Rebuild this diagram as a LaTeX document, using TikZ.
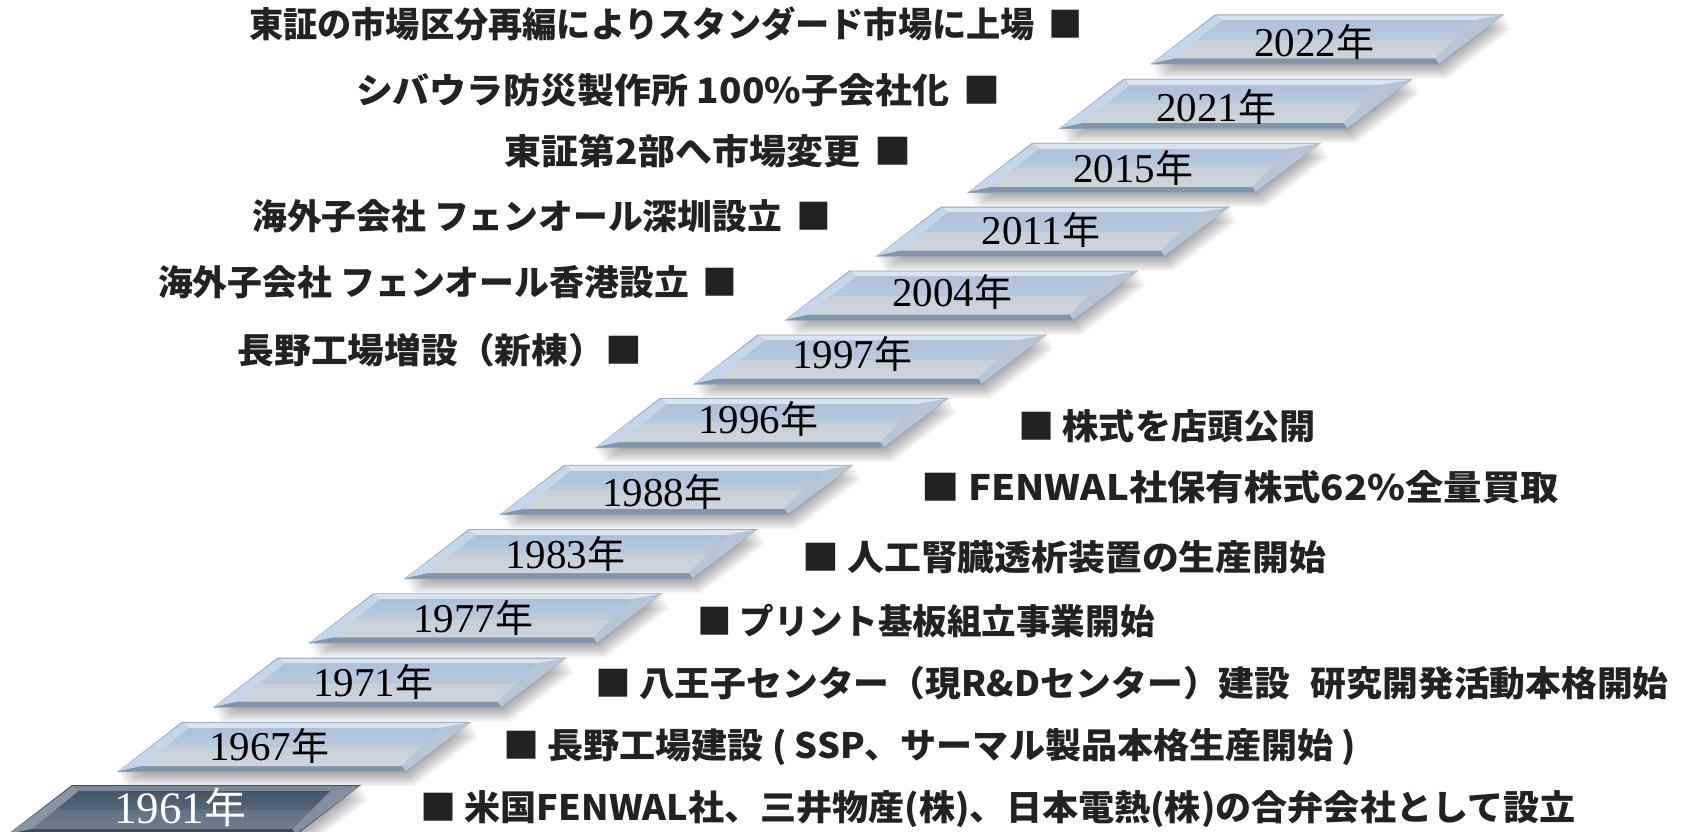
\documentclass[tikz,border=0pt]{standalone}
\usepackage{fontspec}
\usepackage{graphicx}
\newfontfamily\jp{Noto Sans CJK JP}
\newfontfamily\yrf{Liberation Serif}
\usetikzlibrary{calc}
% light step colours
\definecolor{Ledge}{HTML}{90A4B9}
\definecolor{Ltop}{HTML}{D8E4F0}
\definecolor{Lleft}{HTML}{C4D6EA}
\definecolor{Lright}{HTML}{B6C6D5}
\definecolor{Lbot}{HTML}{8195AA}
\definecolor{Lft}{HTML}{ADC1DA}
\definecolor{Lfm}{HTML}{BACADE}
\definecolor{Lfm2}{HTML}{C5D0D6}
\definecolor{Lfb}{HTML}{CDD6DA}
\definecolor{Ltxt}{HTML}{000000}
% dark step colours
\definecolor{Dedge}{HTML}{3C4957}
\definecolor{Dtop}{HTML}{7A8A9B}
\definecolor{Dleft}{HTML}{8796A5}
\definecolor{Dright}{HTML}{8390A0}
\definecolor{Dbot}{HTML}{3A4652}
\definecolor{Dft}{HTML}{455567}
\definecolor{Dfm}{HTML}{56677A}
\definecolor{Dfm2}{HTML}{627284}
\definecolor{Dfb}{HTML}{6E7E8E}
\definecolor{Dtxt}{HTML}{FFFFFF}
\definecolor{evtxt}{HTML}{222222}
\tikzset{
  evt/.style={font=\jp\bfseries\fontsize{35}{40}\selectfont, text=evtxt, inner sep=0pt},
  yr/.style={font=\yrf\fontsize{41}{44}\selectfont, inner sep=0pt, anchor=base},
  yrbig/.style={font=\yrf\fontsize{45}{48}\selectfont, inner sep=0pt, anchor=base},
}
\newcommand\jyear[1]{#1{\jp\fontsize{38}{44}\selectfont 年}}
\newcommand\jyearbig[1]{#1{\jp\fontsize{42}{48}\selectfont 年}}
\newcommand\sx[2]{\scalebox{#1}[1]{#2}}
% #1 name, #2 x, #3 y, #4 scheme
\newcommand\yearstep[4]{%
 \begin{scope}[shift={(#2,#3)}]
  \foreach \k in {1,...,9}{\fill[black,opacity=0.04] (\k*0.9,\k*1.6) -- ++(289,0) -- ++(-65,50) -- ++(-289,0) -- cycle;}
  \fill[#4edge] (0,0) -- (289,0) -- (224,50) -- (-65,50) -- cycle;
  \fill[#4top] (0.8,0.8) -- (287.6,0.8) -- (258,6) -- (7,6) -- cycle;
  \fill[#4left] (0.8,0.8) -- (7,6) -- (-40,44) -- (-63.5,49.2) -- cycle;
  \fill[#4right] (287.6,0.8) -- (223.5,49.2) -- (220,44) -- (258,6) -- cycle;
  \fill[#4bot] (-63.5,49.2) -- (-40,44) -- (220,44) -- (223.5,49.2) -- cycle;
  \shade[top color=#4ft, bottom color=#4fm] (7,6) -- (258,6) -- (239,25) -- (-16.5,25) -- cycle;
  \shade[top color=#4fm2, bottom color=#4fb] (-16.5,25) -- (239,25) -- (220,44) -- (-40,44) -- cycle;
 \end{scope}}
\begin{document}
\begin{tikzpicture}[x=1pt,y=-1pt]
\fill[white] (0,0) rectangle (1687,832);
\useasboundingbox (0,0) rectangle (1687,832);
% steps, top to bottom
\yearstep{s2022}{1215}{14.5}{L}
\yearstep{s2021}{1123.6}{78.9}{L}
\yearstep{s2015}{1032.2}{142.8}{L}
\yearstep{s2011}{940.8}{206.7}{L}
\yearstep{s2004}{849.4}{270.6}{L}
\yearstep{s1997}{758}{334.5}{L}
\yearstep{s1996}{660}{398}{L}
\yearstep{s1988}{564.4}{464.8}{L}
\yearstep{s1983}{468.8}{529.1}{L}
\yearstep{s1977}{373.2}{593.4}{L}
\yearstep{s1971}{277.6}{657.7}{L}
\yearstep{s1967}{182}{722}{L}
\yearstep{s1961}{72}{785}{D}
% year labels
\node[yr,text=Ltxt] (y2022) at (1314,56.5) {\jyear{2022}};
\node[yr,text=Ltxt] (y2021) at (1216,121.5) {\jyear{2021}};
\node[yr,text=Ltxt] (y2015) at (1133,182.5) {\jyear{2015}};
\node[yr,text=Ltxt] (y2011) at (1041,244.5) {\jyear{2011}};
\node[yr,text=Ltxt] (y2004) at (952,306.5) {\jyear{2004}};
\node[yr,text=Ltxt] (y1997) at (852,368.5) {\jyear{1997}};
\node[yr,text=Ltxt] (y1996) at (758,433.5) {\jyear{1996}};
\node[yr,text=Ltxt] (y1988) at (662,506.5) {\jyear{1988}};
\node[yr,text=Ltxt] (y1983) at (565,568.5) {\jyear{1983}};
\node[yr,text=Ltxt] (y1977) at (473,632.5) {\jyear{1977}};
\node[yr,text=Ltxt] (y1971) at (373,696.5) {\jyear{1971}};
\node[yr,text=Ltxt] (y1967) at (269,760.5) {\jyear{1967}};
\node[yrbig,text=Dtxt] (y1961) at (180,823) {\jyearbig{1961}};
% events, right side
\node[evt,anchor=west] (e1961) at (420,809) {\sx{1.032}{■ 米国FENWAL社、三井物産(株)、日本電熱(株)の合弁会社として設立}};
\node[evt,anchor=west] (e1967) at (503,747) {\sx{1.03}{■ 長野工場建設 ( SSP、サーマル製品本格生産開始 )}};
\node[evt,anchor=west] (e1971) at (595,683) {\sx{1.022}{■ 八王子センター（現R\&Dセンター）建設\hspace{12pt} 研究開発活動本格開始}};
\node[evt,anchor=west] (e1977) at (697,621) {\sx{0.988}{■ プリント基板組立事業開始}};
\node[evt,anchor=west] (e1983) at (802,557) {\sx{1.052}{■ 人工腎臓透析装置の生産開始}};
\node[evt,anchor=west] (e1988) at (921,487) {\sx{1.096}{■ FENWAL社保有株式62\%全量買取}};
\node[evt,anchor=west] (e1996) at (1018,426) {\sx{1.034}{■ 株式を店頭公開}};
% events, left side
\node[evt,anchor=east] (e1997) at (642,350) {\sx{1.05}{長野工場増設（新棟）■}};
\node[evt,anchor=east] (e2004) at (738,282) {\sx{0.996}{海外子会社 フェンオール香港設立\hspace{14pt}■}};
\node[evt,anchor=east] (e2011) at (831,216) {\sx{0.994}{海外子会社 フェンオール深圳設立\hspace{14pt}■}};
\node[evt,anchor=east] (e2015) at (912,151) {\sx{1.056}{東証第2部へ市場変更\hspace{14pt}■}};
\node[evt,anchor=east] (e2021) at (1001,90) {\sx{1.057}{シバウラ防災製作所 100\%子会社化\hspace{14pt}■}};
\node[evt,anchor=east] (e2022) at (1083,24) {\sx{0.977}{東証の市場区分再編によりスタンダード市場に上場\hspace{14pt}■}};
\end{tikzpicture}
\end{document}
